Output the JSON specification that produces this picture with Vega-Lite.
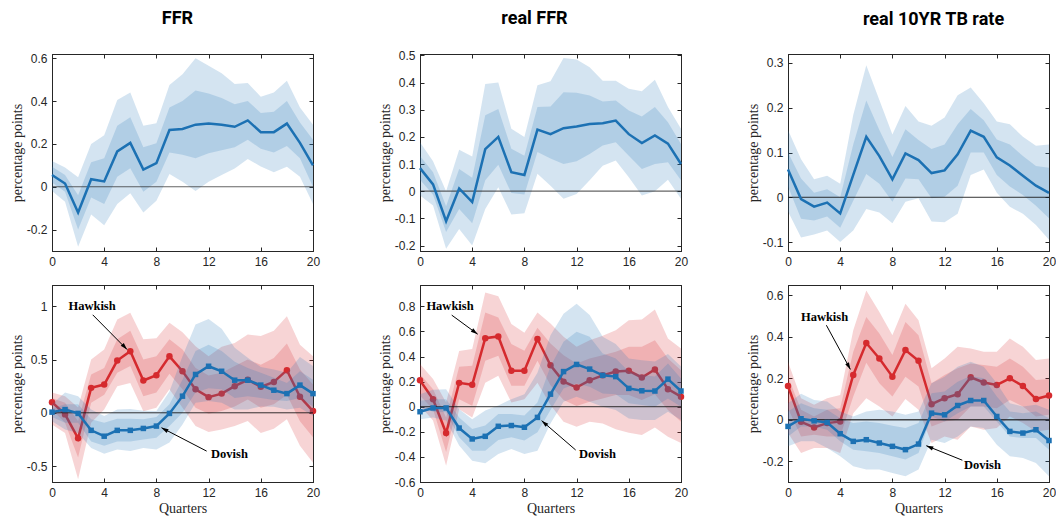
{
"$schema": "https://vega.github.io/schema/vega-lite/v6.json",
"padding": {"left": 9, "top": 9, "right": 2, "bottom": 2},
"columns": 3,
"spacing": {"row": 34, "column": 107},
"bounds": "flush",
"config": {
 "view": {"stroke": "#262626", "strokeWidth": 1},
 "axis": {"grid": false, "domainColor": "#262626", "tickColor": "#262626", "tickSize": -4, "labelPadding": 9, "labelFont": "Liberation Sans", "labelFontSize": 12, "labelColor": "#262626", "titleFont": "Liberation Serif", "titleFontSize": 14, "titleFontWeight": "normal", "titleColor": "#262626", "labelFlush": false, "labelOverlap": false, "tickCount": 20},
 "axisY": {"titlePadding": 2},
 "axisX": {"titlePadding": 3},
 "title": {"font": "Roboto", "fontSize": 18, "fontWeight": "bold", "color": "#000000", "offset": 25}
},
"datasets": {
"ann": [
 {"p":4,"label":"Hawkish","tx":3.07,"ty":1.0,"x0":3.12,"y0":0.92,"x1":5.75,"y1":0.594},
 {"p":4,"label":"Dovish","tx":13.6,"ty":-0.39,"x0":11.85,"y0":-0.36,"x1":8.39,"y1":-0.14},
 {"p":5,"label":"Hawkish","tx":2.3,"ty":0.8,"x0":2.43,"y0":0.73,"x1":4.42,"y1":0.578},
 {"p":5,"label":"Dovish","tx":13.6,"ty":-0.377,"x0":11.93,"y0":-0.345,"x1":9.32,"y1":-0.111},
 {"p":6,"label":"Hawkish","tx":2.8,"ty":0.496,"x0":2.94,"y0":0.456,"x1":4.78,"y1":0.243},
 {"p":6,"label":"Dovish","tx":14.9,"ty":-0.216,"x0":13.36,"y0":-0.195,"x1":10.6,"y1":-0.125}
],
"irf": [
{"p":1,"s":"b","q":0,"m":0.055,"ol":-0.02,"oh":0.12,"il":0.02,"ih":0.094},
{"p":1,"s":"b","q":1,"m":0.015,"ol":-0.07,"oh":0.09,"il":-0.023,"ih":0.055},
{"p":1,"s":"b","q":2,"m":-0.12,"ol":-0.28,"oh":0.045,"il":-0.2,"ih":-0.04},
{"p":1,"s":"b","q":3,"m":0.035,"ol":-0.13,"oh":0.2,"il":-0.05,"ih":0.115},
{"p":1,"s":"b","q":4,"m":0.025,"ol":-0.18,"oh":0.24,"il":-0.08,"ih":0.133},
{"p":1,"s":"b","q":5,"m":0.165,"ol":-0.08,"oh":0.405,"il":0.047,"ih":0.285},
{"p":1,"s":"b","q":6,"m":0.205,"ol":-0.03,"oh":0.44,"il":0.086,"ih":0.325},
{"p":1,"s":"b","q":7,"m":0.08,"ol":-0.12,"oh":0.285,"il":-0.023,"ih":0.185},
{"p":1,"s":"b","q":8,"m":0.11,"ol":-0.065,"oh":0.297,"il":0.023,"ih":0.203},
{"p":1,"s":"b","q":9,"m":0.265,"ol":0.06,"oh":0.475,"il":0.16,"ih":0.37},
{"p":1,"s":"b","q":10,"m":0.27,"ol":0.023,"oh":0.525,"il":0.15,"ih":0.4},
{"p":1,"s":"b","q":11,"m":0.29,"ol":-0.02,"oh":0.6,"il":0.133,"ih":0.45},
{"p":1,"s":"b","q":12,"m":0.295,"ol":0.023,"oh":0.565,"il":0.156,"ih":0.435},
{"p":1,"s":"b","q":13,"m":0.29,"ol":0.055,"oh":0.53,"il":0.17,"ih":0.415},
{"p":1,"s":"b","q":14,"m":0.28,"ol":0.085,"oh":0.48,"il":0.185,"ih":0.385},
{"p":1,"s":"b","q":15,"m":0.31,"ol":0.13,"oh":0.485,"il":0.22,"ih":0.4},
{"p":1,"s":"b","q":16,"m":0.255,"ol":0.095,"oh":0.42,"il":0.177,"ih":0.345},
{"p":1,"s":"b","q":17,"m":0.255,"ol":0.068,"oh":0.44,"il":0.16,"ih":0.35},
{"p":1,"s":"b","q":18,"m":0.295,"ol":0.094,"oh":0.495,"il":0.19,"ih":0.4},
{"p":1,"s":"b","q":19,"m":0.205,"ol":0.047,"oh":0.37,"il":0.133,"ih":0.3},
{"p":1,"s":"b","q":20,"m":0.1,"ol":-0.08,"oh":0.29,"il":0.0,"ih":0.22},
{"p":2,"s":"b","q":0,"m":0.085,"ol":-0.016,"oh":0.18,"il":0.042,"ih":0.13},
{"p":2,"s":"b","q":1,"m":0.025,"ol":-0.053,"oh":0.11,"il":-0.013,"ih":0.07},
{"p":2,"s":"b","q":2,"m":-0.11,"ol":-0.212,"oh":0.0,"il":-0.15,"ih":-0.055},
{"p":2,"s":"b","q":3,"m":0.01,"ol":-0.139,"oh":0.153,"il":-0.065,"ih":0.082},
{"p":2,"s":"b","q":4,"m":-0.04,"ol":-0.2,"oh":0.128,"il":-0.118,"ih":0.05},
{"p":2,"s":"b","q":5,"m":0.155,"ol":-0.065,"oh":0.395,"il":0.04,"ih":0.28},
{"p":2,"s":"b","q":6,"m":0.2,"ol":0.015,"oh":0.4,"il":0.097,"ih":0.303},
{"p":2,"s":"b","q":7,"m":0.07,"ol":-0.086,"oh":0.23,"il":-0.007,"ih":0.156},
{"p":2,"s":"b","q":8,"m":0.06,"ol":-0.081,"oh":0.2,"il":-0.012,"ih":0.131},
{"p":2,"s":"b","q":9,"m":0.227,"ol":0.064,"oh":0.39,"il":0.144,"ih":0.31},
{"p":2,"s":"b","q":10,"m":0.21,"ol":0.02,"oh":0.405,"il":0.12,"ih":0.312},
{"p":2,"s":"b","q":11,"m":0.232,"ol":-0.028,"oh":0.49,"il":0.1,"ih":0.364},
{"p":2,"s":"b","q":12,"m":0.238,"ol":-0.01,"oh":0.485,"il":0.11,"ih":0.362},
{"p":2,"s":"b","q":13,"m":0.247,"ol":0.04,"oh":0.456,"il":0.137,"ih":0.352},
{"p":2,"s":"b","q":14,"m":0.25,"ol":0.094,"oh":0.407,"il":0.168,"ih":0.33},
{"p":2,"s":"b","q":15,"m":0.26,"ol":0.113,"oh":0.407,"il":0.18,"ih":0.334},
{"p":2,"s":"b","q":16,"m":0.21,"ol":0.051,"oh":0.377,"il":0.131,"ih":0.297},
{"p":2,"s":"b","q":17,"m":0.177,"ol":-0.016,"oh":0.368,"il":0.082,"ih":0.275},
{"p":2,"s":"b","q":18,"m":0.205,"ol":0.0,"oh":0.41,"il":0.1,"ih":0.31},
{"p":2,"s":"b","q":19,"m":0.175,"ol":0.042,"oh":0.31,"il":0.107,"ih":0.254},
{"p":2,"s":"b","q":20,"m":0.1,"ol":-0.028,"oh":0.23,"il":0.04,"ih":0.174},
{"p":3,"s":"b","q":0,"m":0.062,"ol":-0.032,"oh":0.15,"il":0.024,"ih":0.1},
{"p":3,"s":"b","q":1,"m":-0.004,"ol":-0.09,"oh":0.085,"il":-0.048,"ih":0.042},
{"p":3,"s":"b","q":2,"m":-0.021,"ol":-0.083,"oh":0.04,"il":-0.052,"ih":0.01},
{"p":3,"s":"b","q":3,"m":-0.012,"ol":-0.074,"oh":0.048,"il":-0.043,"ih":0.018},
{"p":3,"s":"b","q":4,"m":-0.036,"ol":-0.1,"oh":0.03,"il":-0.068,"ih":0.0},
{"p":3,"s":"b","q":5,"m":0.05,"ol":-0.074,"oh":0.184,"il":-0.008,"ih":0.118},
{"p":3,"s":"b","q":6,"m":0.135,"ol":-0.026,"oh":0.295,"il":0.052,"ih":0.216},
{"p":3,"s":"b","q":7,"m":0.092,"ol":-0.034,"oh":0.217,"il":0.03,"ih":0.15},
{"p":3,"s":"b","q":8,"m":0.04,"ol":-0.058,"oh":0.14,"il":-0.01,"ih":0.09},
{"p":3,"s":"b","q":9,"m":0.098,"ol":-0.01,"oh":0.204,"il":0.042,"ih":0.152},
{"p":3,"s":"b","q":10,"m":0.083,"ol":-0.002,"oh":0.169,"il":0.04,"ih":0.128},
{"p":3,"s":"b","q":11,"m":0.054,"ol":-0.054,"oh":0.16,"il":-0.002,"ih":0.108},
{"p":3,"s":"b","q":12,"m":0.06,"ol":-0.056,"oh":0.178,"il":0.001,"ih":0.118},
{"p":3,"s":"b","q":13,"m":0.096,"ol":-0.037,"oh":0.228,"il":0.026,"ih":0.163},
{"p":3,"s":"b","q":14,"m":0.149,"ol":0.05,"oh":0.245,"il":0.1,"ih":0.197},
{"p":3,"s":"b","q":15,"m":0.135,"ol":0.062,"oh":0.21,"il":0.1,"ih":0.172},
{"p":3,"s":"b","q":16,"m":0.089,"ol":0.01,"oh":0.169,"il":0.05,"ih":0.129},
{"p":3,"s":"b","q":17,"m":0.071,"ol":-0.021,"oh":0.163,"il":0.024,"ih":0.118},
{"p":3,"s":"b","q":18,"m":0.048,"ol":-0.037,"oh":0.135,"il":0.005,"ih":0.092},
{"p":3,"s":"b","q":19,"m":0.026,"ol":-0.062,"oh":0.115,"il":-0.019,"ih":0.07},
{"p":3,"s":"b","q":20,"m":0.01,"ol":-0.095,"oh":0.118,"il":-0.047,"ih":0.066},
{"p":4,"s":"H","q":0,"m":0.1,"ol":-0.11,"oh":0.19,"il":0.03,"ih":0.14},
{"p":4,"s":"H","q":1,"m":-0.015,"ol":-0.19,"oh":0.156,"il":-0.094,"ih":0.094},
{"p":4,"s":"H","q":2,"m":-0.24,"ol":-0.625,"oh":0.05,"il":-0.42,"ih":-0.08},
{"p":4,"s":"H","q":3,"m":0.234,"ol":-0.094,"oh":0.5,"il":0.094,"ih":0.36},
{"p":4,"s":"H","q":4,"m":0.265,"ol":0.03,"oh":0.594,"il":0.17,"ih":0.42},
{"p":4,"s":"H","q":5,"m":0.49,"ol":0.25,"oh":0.875,"il":0.375,"ih":0.69},
{"p":4,"s":"H","q":6,"m":0.578,"ol":0.28,"oh":0.94,"il":0.44,"ih":0.77},
{"p":4,"s":"H","q":7,"m":0.303,"ol":0.015,"oh":0.69,"il":0.156,"ih":0.5},
{"p":4,"s":"H","q":8,"m":0.353,"ol":0.047,"oh":0.7,"il":0.19,"ih":0.53},
{"p":4,"s":"H","q":9,"m":0.53,"ol":0.22,"oh":0.845,"il":0.366,"ih":0.69},
{"p":4,"s":"H","q":10,"m":0.39,"ol":0.047,"oh":0.756,"il":0.22,"ih":0.594},
{"p":4,"s":"H","q":11,"m":0.22,"ol":-0.125,"oh":0.625,"il":0.047,"ih":0.42},
{"p":4,"s":"H","q":12,"m":0.147,"ol":-0.18,"oh":0.53,"il":-0.01,"ih":0.35},
{"p":4,"s":"H","q":13,"m":0.18,"ol":-0.156,"oh":0.62,"il":0.016,"ih":0.375},
{"p":4,"s":"H","q":14,"m":0.25,"ol":-0.125,"oh":0.656,"il":0.06,"ih":0.44},
{"p":4,"s":"H","q":15,"m":0.31,"ol":-0.078,"oh":0.735,"il":0.125,"ih":0.5},
{"p":4,"s":"H","q":16,"m":0.244,"ol":-0.19,"oh":0.72,"il":0.047,"ih":0.45},
{"p":4,"s":"H","q":17,"m":0.29,"ol":-0.15,"oh":0.77,"il":0.08,"ih":0.515},
{"p":4,"s":"H","q":18,"m":0.4,"ol":-0.06,"oh":0.906,"il":0.17,"ih":0.65},
{"p":4,"s":"H","q":19,"m":0.15,"ol":-0.31,"oh":0.64,"il":-0.08,"ih":0.406},
{"p":4,"s":"H","q":20,"m":0.016,"ol":-0.47,"oh":0.53,"il":-0.23,"ih":0.266},
{"p":4,"s":"D","q":0,"m":0.006,"ol":-0.08,"oh":0.08,"il":-0.04,"ih":0.04},
{"p":4,"s":"D","q":1,"m":0.03,"ol":-0.156,"oh":0.19,"il":-0.094,"ih":0.08},
{"p":4,"s":"D","q":2,"m":-0.006,"ol":-0.19,"oh":0.156,"il":-0.094,"ih":0.08},
{"p":4,"s":"D","q":3,"m":-0.165,"ol":-0.33,"oh":0.03,"il":-0.27,"ih":-0.06},
{"p":4,"s":"D","q":4,"m":-0.22,"ol":-0.384,"oh":-0.03,"il":-0.31,"ih":-0.094},
{"p":4,"s":"D","q":5,"m":-0.165,"ol":-0.344,"oh":0.03,"il":-0.27,"ih":-0.056},
{"p":4,"s":"D","q":6,"m":-0.165,"ol":-0.36,"oh":0.035,"il":-0.27,"ih":-0.056},
{"p":4,"s":"D","q":7,"m":-0.147,"ol":-0.33,"oh":0.02,"il":-0.25,"ih":-0.06},
{"p":4,"s":"D","q":8,"m":-0.125,"ol":-0.344,"oh":0.016,"il":-0.234,"ih":-0.04},
{"p":4,"s":"D","q":9,"m":-0.006,"ol":-0.28,"oh":0.2,"il":-0.125,"ih":0.08},
{"p":4,"s":"D","q":10,"m":0.156,"ol":-0.11,"oh":0.53,"il":0.0,"ih":0.31},
{"p":4,"s":"D","q":11,"m":0.36,"ol":0.094,"oh":0.83,"il":0.19,"ih":0.58},
{"p":4,"s":"D","q":12,"m":0.437,"ol":0.11,"oh":0.88,"il":0.23,"ih":0.64},
{"p":4,"s":"D","q":13,"m":0.39,"ol":0.094,"oh":0.79,"il":0.22,"ih":0.58},
{"p":4,"s":"D","q":14,"m":0.306,"ol":0.03,"oh":0.61,"il":0.14,"ih":0.48},
{"p":4,"s":"D","q":15,"m":0.306,"ol":0.03,"oh":0.516,"il":0.156,"ih":0.42},
{"p":4,"s":"D","q":16,"m":0.26,"ol":0.06,"oh":0.43,"il":0.14,"ih":0.375},
{"p":4,"s":"D","q":17,"m":0.212,"ol":0.056,"oh":0.406,"il":0.12,"ih":0.33},
{"p":4,"s":"D","q":18,"m":0.18,"ol":0.03,"oh":0.375,"il":0.11,"ih":0.28},
{"p":4,"s":"D","q":19,"m":0.26,"ol":0.047,"oh":0.525,"il":0.14,"ih":0.39},
{"p":4,"s":"D","q":20,"m":0.18,"ol":-0.03,"oh":0.44,"il":0.06,"ih":0.31},
{"p":5,"s":"H","q":0,"m":0.21,"ol":0.008,"oh":0.34,"il":0.088,"ih":0.26},
{"p":5,"s":"H","q":1,"m":0.06,"ol":-0.11,"oh":0.22,"il":-0.02,"ih":0.14},
{"p":5,"s":"H","q":2,"m":-0.21,"ol":-0.47,"oh":0.034,"il":-0.36,"ih":-0.085},
{"p":5,"s":"H","q":3,"m":0.19,"ol":-0.02,"oh":0.445,"il":0.06,"ih":0.318},
{"p":5,"s":"H","q":4,"m":0.175,"ol":-0.085,"oh":0.46,"il":0.008,"ih":0.326},
{"p":5,"s":"H","q":5,"m":0.546,"ol":0.19,"oh":0.91,"il":0.366,"ih":0.75},
{"p":5,"s":"H","q":6,"m":0.56,"ol":0.247,"oh":0.88,"il":0.406,"ih":0.71},
{"p":5,"s":"H","q":7,"m":0.286,"ol":0.034,"oh":0.66,"il":0.167,"ih":0.5},
{"p":5,"s":"H","q":8,"m":0.286,"ol":0.06,"oh":0.59,"il":0.167,"ih":0.446},
{"p":5,"s":"H","q":9,"m":0.54,"ol":0.19,"oh":0.75,"il":0.366,"ih":0.63},
{"p":5,"s":"H","q":10,"m":0.33,"ol":0.013,"oh":0.663,"il":0.172,"ih":0.504},
{"p":5,"s":"H","q":11,"m":0.2,"ol":-0.12,"oh":0.557,"il":0.053,"ih":0.41},
{"p":5,"s":"H","q":12,"m":0.154,"ol":-0.16,"oh":0.477,"il":0.005,"ih":0.345},
{"p":5,"s":"H","q":13,"m":0.21,"ol":-0.12,"oh":0.53,"il":0.04,"ih":0.385},
{"p":5,"s":"H","q":14,"m":0.25,"ol":-0.133,"oh":0.565,"il":0.066,"ih":0.41},
{"p":5,"s":"H","q":15,"m":0.28,"ol":-0.18,"oh":0.61,"il":0.093,"ih":0.438},
{"p":5,"s":"H","q":16,"m":0.286,"ol":-0.207,"oh":0.69,"il":0.093,"ih":0.477},
{"p":5,"s":"H","q":17,"m":0.233,"ol":-0.225,"oh":0.695,"il":0.053,"ih":0.477},
{"p":5,"s":"H","q":18,"m":0.297,"ol":-0.165,"oh":0.775,"il":0.1,"ih":0.53},
{"p":5,"s":"H","q":19,"m":0.14,"ol":-0.24,"oh":0.544,"il":-0.027,"ih":0.385},
{"p":5,"s":"H","q":20,"m":0.08,"ol":-0.29,"oh":0.464,"il":-0.12,"ih":0.29},
{"p":5,"s":"D","q":0,"m":-0.04,"ol":-0.1,"oh":0.1,"il":-0.005,"ih":0.048},
{"p":5,"s":"D","q":1,"m":-0.01,"ol":-0.085,"oh":0.135,"il":-0.04,"ih":0.06},
{"p":5,"s":"D","q":2,"m":-0.01,"ol":-0.11,"oh":0.14,"il":-0.045,"ih":0.06},
{"p":5,"s":"D","q":3,"m":-0.17,"ol":-0.31,"oh":-0.02,"il":-0.244,"ih":-0.085},
{"p":5,"s":"D","q":4,"m":-0.257,"ol":-0.43,"oh":-0.1,"il":-0.35,"ih":-0.178},
{"p":5,"s":"D","q":5,"m":-0.236,"ol":-0.45,"oh":-0.03,"il":-0.35,"ih":-0.15},
{"p":5,"s":"D","q":6,"m":-0.156,"ol":-0.377,"oh":0.01,"il":-0.265,"ih":-0.058},
{"p":5,"s":"D","q":7,"m":-0.15,"ol":-0.337,"oh":0.06,"il":-0.244,"ih":-0.058},
{"p":5,"s":"D","q":8,"m":-0.164,"ol":-0.377,"oh":0.1,"il":-0.27,"ih":-0.07},
{"p":5,"s":"D","q":9,"m":-0.085,"ol":-0.35,"oh":0.27,"il":-0.204,"ih":0.034},
{"p":5,"s":"D","q":10,"m":0.1,"ol":-0.133,"oh":0.57,"il":-0.027,"ih":0.32},
{"p":5,"s":"D","q":11,"m":0.28,"ol":0.04,"oh":0.74,"il":0.146,"ih":0.517},
{"p":5,"s":"D","q":12,"m":0.337,"ol":0.08,"oh":0.82,"il":0.186,"ih":0.597},
{"p":5,"s":"D","q":13,"m":0.3,"ol":0.04,"oh":0.73,"il":0.16,"ih":0.557},
{"p":5,"s":"D","q":14,"m":0.25,"ol":0.0,"oh":0.557,"il":0.106,"ih":0.424},
{"p":5,"s":"D","q":15,"m":0.24,"ol":-0.027,"oh":0.5,"il":0.1,"ih":0.385},
{"p":5,"s":"D","q":16,"m":0.146,"ol":-0.093,"oh":0.385,"il":0.027,"ih":0.28},
{"p":5,"s":"D","q":17,"m":0.127,"ol":-0.106,"oh":0.37,"il":0.013,"ih":0.252},
{"p":5,"s":"D","q":18,"m":0.125,"ol":-0.106,"oh":0.36,"il":0.0,"ih":0.24},
{"p":5,"s":"D","q":19,"m":0.22,"ol":-0.04,"oh":0.42,"il":0.066,"ih":0.345},
{"p":5,"s":"D","q":20,"m":0.125,"ol":-0.106,"oh":0.32,"il":0.0,"ih":0.225},
{"p":6,"s":"H","q":0,"m":0.163,"ol":-0.064,"oh":0.28,"il":0.056,"ih":0.208},
{"p":6,"s":"H","q":1,"m":-0.01,"ol":-0.16,"oh":0.104,"il":-0.08,"ih":0.048},
{"p":6,"s":"H","q":2,"m":-0.037,"ol":-0.136,"oh":0.072,"il":-0.072,"ih":0.016},
{"p":6,"s":"H","q":3,"m":-0.016,"ol":-0.136,"oh":0.104,"il":-0.08,"ih":0.048},
{"p":6,"s":"H","q":4,"m":-0.008,"ol":-0.16,"oh":0.12,"il":-0.08,"ih":0.056},
{"p":6,"s":"H","q":5,"m":0.216,"ol":0.032,"oh":0.432,"il":0.112,"ih":0.328},
{"p":6,"s":"H","q":6,"m":0.37,"ol":0.104,"oh":0.624,"il":0.275,"ih":0.496},
{"p":6,"s":"H","q":7,"m":0.296,"ol":0.064,"oh":0.52,"il":0.176,"ih":0.416},
{"p":6,"s":"H","q":8,"m":0.208,"ol":0.016,"oh":0.408,"il":0.112,"ih":0.312},
{"p":6,"s":"H","q":9,"m":0.336,"ol":0.1,"oh":0.56,"il":0.208,"ih":0.472},
{"p":6,"s":"H","q":10,"m":0.285,"ol":0.048,"oh":0.48,"il":0.16,"ih":0.408},
{"p":6,"s":"H","q":11,"m":0.075,"ol":-0.112,"oh":0.248,"il":-0.032,"ih":0.176},
{"p":6,"s":"H","q":12,"m":0.104,"ol":-0.08,"oh":0.296,"il":-0.008,"ih":0.216},
{"p":6,"s":"H","q":13,"m":0.123,"ol":-0.096,"oh":0.352,"il":0.0,"ih":0.248},
{"p":6,"s":"H","q":14,"m":0.205,"ol":-0.032,"oh":0.344,"il":0.064,"ih":0.272},
{"p":6,"s":"H","q":15,"m":0.18,"ol":-0.048,"oh":0.328,"il":0.064,"ih":0.264},
{"p":6,"s":"H","q":16,"m":0.168,"ol":-0.04,"oh":0.328,"il":0.056,"ih":0.256},
{"p":6,"s":"H","q":17,"m":0.2,"ol":0.016,"oh":0.392,"il":0.096,"ih":0.296},
{"p":6,"s":"H","q":18,"m":0.163,"ol":-0.016,"oh":0.352,"il":0.064,"ih":0.256},
{"p":6,"s":"H","q":19,"m":0.1,"ol":-0.056,"oh":0.288,"il":0.016,"ih":0.192},
{"p":6,"s":"H","q":20,"m":0.117,"ol":-0.048,"oh":0.296,"il":0.024,"ih":0.197},
{"p":6,"s":"D","q":0,"m":-0.032,"ol":-0.128,"oh":0.08,"il":-0.08,"ih":0.04},
{"p":6,"s":"D","q":1,"m":0.005,"ol":-0.104,"oh":0.125,"il":-0.032,"ih":0.08},
{"p":6,"s":"D","q":2,"m":-0.005,"ol":-0.104,"oh":0.096,"il":-0.032,"ih":0.056},
{"p":6,"s":"D","q":3,"m":-0.013,"ol":-0.136,"oh":0.088,"il":-0.048,"ih":0.048},
{"p":6,"s":"D","q":4,"m":-0.067,"ol":-0.176,"oh":0.04,"il":-0.104,"ih":0.008},
{"p":6,"s":"D","q":5,"m":-0.104,"ol":-0.224,"oh":0.016,"il":-0.144,"ih":-0.016},
{"p":6,"s":"D","q":6,"m":-0.096,"ol":-0.24,"oh":0.04,"il":-0.152,"ih":-0.008},
{"p":6,"s":"D","q":7,"m":-0.112,"ol":-0.24,"oh":0.048,"il":-0.16,"ih":-0.016},
{"p":6,"s":"D","q":8,"m":-0.128,"ol":-0.256,"oh":0.04,"il":-0.176,"ih":-0.029},
{"p":6,"s":"D","q":9,"m":-0.144,"ol":-0.272,"oh":0.024,"il":-0.192,"ih":-0.04},
{"p":6,"s":"D","q":10,"m":-0.117,"ol":-0.24,"oh":0.04,"il":-0.16,"ih":-0.016},
{"p":6,"s":"D","q":11,"m":0.032,"ol":-0.096,"oh":0.176,"il":0.016,"ih":0.128},
{"p":6,"s":"D","q":12,"m":0.024,"ol":-0.112,"oh":0.208,"il":-0.008,"ih":0.136},
{"p":6,"s":"D","q":13,"m":0.069,"ol":-0.08,"oh":0.256,"il":0.032,"ih":0.184},
{"p":6,"s":"D","q":14,"m":0.093,"ol":-0.032,"oh":0.28,"il":0.064,"ih":0.211},
{"p":6,"s":"D","q":15,"m":0.093,"ol":-0.04,"oh":0.256,"il":0.064,"ih":0.2},
{"p":6,"s":"D","q":16,"m":0.016,"ol":-0.12,"oh":0.176,"il":-0.008,"ih":0.112},
{"p":6,"s":"D","q":17,"m":-0.056,"ol":-0.176,"oh":0.08,"il":-0.08,"ih":0.04},
{"p":6,"s":"D","q":18,"m":-0.064,"ol":-0.184,"oh":0.064,"il":-0.088,"ih":0.032},
{"p":6,"s":"D","q":19,"m":-0.048,"ol":-0.208,"oh":0.072,"il":-0.088,"ih":0.04},
{"p":6,"s":"D","q":20,"m":-0.1,"ol":-0.272,"oh":0.048,"il":-0.144,"ih":0.008}
]
},
"data": {"name": "irf"},
"concat": [
{
 "title": {"text": "FFR", "dx": -5, "dy": 1},
 "width": 261, "height": 197,
 "layer": [
  {"layer": [
   {"transform": [{"filter": "datum.p==1"}], "mark": {"type": "area", "color": "#2a7ab8", "opacity": 0.2},
    "encoding": {"x": {"field": "q", "type": "quantitative", "scale": {"domain": [0, 20], "nice": false}, "axis": {"values": [0,4,8,12,16,20], "tickCount": 20, "title": null, "format": "d", "labelOverlap": false}},
     "y": {"field": "ol", "type": "quantitative", "scale": {"domain": [-0.3, 0.62], "nice": false, "zero": false}, "axis": {"values": [-0.2,0,0.2,0.4,0.6], "tickCount": 20, "title": "percentage points", "labelOverlap": false, "labelExpr": "datum.value < 0 ? '-' + format(-datum.value, '~g') : format(datum.value, '~g')"}},
     "y2": {"field": "oh"}}},
   {"transform": [{"filter": "datum.p==1"}], "mark": {"type": "area", "color": "#2a7ab8", "opacity": 0.2},
    "encoding": {"x": {"field": "q", "type": "quantitative"}, "y": {"field": "il", "type": "quantitative"}, "y2": {"field": "ih"}}},
   {"data": {"values": [{}]}, "mark": {"type": "rule", "color": "#222222", "strokeWidth": 1.2, "opacity": 0.7}, "encoding": {"y": {"datum": 0}}},
   {"transform": [{"filter": "datum.p==1"}], "mark": {"type": "line", "color": "#1c71b3", "strokeWidth": 2.5},
    "encoding": {"x": {"field": "q", "type": "quantitative"}, "y": {"field": "m", "type": "quantitative"}}}
  ]},
  {"transform": [{"filter": "datum.p==1"}], "mark": {"type": "point", "opacity": 0},
   "encoding": {"x": {"field": "q", "type": "quantitative", "axis": {"orient": "top", "values": [0,4,8,12,16,20], "tickCount": 20, "labels": false, "title": null}},
    "y": {"field": "m", "type": "quantitative", "axis": {"orient": "right", "values": [-0.2,0,0.2,0.4,0.6], "tickCount": 20, "labels": false, "title": null}}}}
 ],
 "resolve": {"axis": {"x": "independent", "y": "independent"}}
},
{
 "title": {"text": "real FFR", "dx": -16, "dy": 4},
 "width": 261, "height": 197,
 "layer": [
  {"layer": [
   {"transform": [{"filter": "datum.p==2"}], "mark": {"type": "area", "color": "#2a7ab8", "opacity": 0.2},
    "encoding": {"x": {"field": "q", "type": "quantitative", "scale": {"domain": [0, 20], "nice": false}, "axis": {"values": [0,4,8,12,16,20], "tickCount": 20, "title": null, "format": "d", "labelOverlap": false}},
     "y": {"field": "ol", "type": "quantitative", "scale": {"domain": [-0.22, 0.505], "nice": false, "zero": false}, "axis": {"values": [-0.2,-0.1,0,0.1,0.2,0.3,0.4,0.5], "tickCount": 20, "title": "percentage points", "labelOverlap": false, "labelExpr": "datum.value < 0 ? '-' + format(-datum.value, '~g') : format(datum.value, '~g')"}},
     "y2": {"field": "oh"}}},
   {"transform": [{"filter": "datum.p==2"}], "mark": {"type": "area", "color": "#2a7ab8", "opacity": 0.2},
    "encoding": {"x": {"field": "q", "type": "quantitative"}, "y": {"field": "il", "type": "quantitative"}, "y2": {"field": "ih"}}},
   {"data": {"values": [{}]}, "mark": {"type": "rule", "color": "#222222", "strokeWidth": 1.2, "opacity": 0.7}, "encoding": {"y": {"datum": 0}}},
   {"transform": [{"filter": "datum.p==2"}], "mark": {"type": "line", "color": "#1c71b3", "strokeWidth": 2.5},
    "encoding": {"x": {"field": "q", "type": "quantitative"}, "y": {"field": "m", "type": "quantitative"}}}
  ]},
  {"transform": [{"filter": "datum.p==2"}], "mark": {"type": "point", "opacity": 0},
   "encoding": {"x": {"field": "q", "type": "quantitative", "axis": {"orient": "top", "values": [0,4,8,12,16,20], "tickCount": 20, "labels": false, "title": null}},
    "y": {"field": "m", "type": "quantitative", "axis": {"orient": "right", "values": [-0.2,-0.1,0,0.1,0.2,0.3,0.4,0.5], "tickCount": 20, "labels": false, "title": null}}}}
 ],
 "resolve": {"axis": {"x": "independent", "y": "independent"}}
},
{
 "title": {"text": "real 10YR TB rate", "dx": 15, "dy": 0},
 "width": 261, "height": 197,
 "layer": [
  {"layer": [
   {"transform": [{"filter": "datum.p==3"}], "mark": {"type": "area", "color": "#2a7ab8", "opacity": 0.2},
    "encoding": {"x": {"field": "q", "type": "quantitative", "scale": {"domain": [0, 20], "nice": false}, "axis": {"values": [0,4,8,12,16,20], "tickCount": 20, "title": null, "format": "d", "labelOverlap": false}},
     "y": {"field": "ol", "type": "quantitative", "scale": {"domain": [-0.12, 0.32], "nice": false, "zero": false}, "axis": {"values": [-0.1,0,0.1,0.2,0.3], "tickCount": 20, "title": "percentage points", "labelOverlap": false, "labelExpr": "datum.value < 0 ? '-' + format(-datum.value, '~g') : format(datum.value, '~g')"}},
     "y2": {"field": "oh"}}},
   {"transform": [{"filter": "datum.p==3"}], "mark": {"type": "area", "color": "#2a7ab8", "opacity": 0.2},
    "encoding": {"x": {"field": "q", "type": "quantitative"}, "y": {"field": "il", "type": "quantitative"}, "y2": {"field": "ih"}}},
   {"data": {"values": [{}]}, "mark": {"type": "rule", "color": "#111111", "strokeWidth": 1, "opacity": 0.85}, "encoding": {"y": {"datum": 0}}},
   {"transform": [{"filter": "datum.p==3"}], "mark": {"type": "line", "color": "#1c71b3", "strokeWidth": 2.5},
    "encoding": {"x": {"field": "q", "type": "quantitative"}, "y": {"field": "m", "type": "quantitative"}}}
  ]},
  {"transform": [{"filter": "datum.p==3"}], "mark": {"type": "point", "opacity": 0},
   "encoding": {"x": {"field": "q", "type": "quantitative", "axis": {"orient": "top", "values": [0,4,8,12,16,20], "tickCount": 20, "labels": false, "title": null}},
    "y": {"field": "m", "type": "quantitative", "axis": {"orient": "right", "values": [-0.1,0,0.1,0.2,0.3], "tickCount": 20, "labels": false, "title": null}}}}
 ],
 "resolve": {"axis": {"x": "independent", "y": "independent"}}
},
{
 "width": 261, "height": 197,
 "layer": [
  {"layer": [
   {"transform": [{"filter": "datum.p==4 && datum.s=='H'"}], "mark": {"type": "area", "color": "#d9282e", "opacity": 0.2},
    "encoding": {"x": {"field": "q", "type": "quantitative", "scale": {"domain": [0, 20], "nice": false}, "axis": {"values": [0,4,8,12,16,20], "tickCount": 20, "title": "Quarters", "format": "d", "labelOverlap": false}},
     "y": {"field": "ol", "type": "quantitative", "scale": {"domain": [-0.65, 1.2], "nice": false, "zero": false}, "axis": {"values": [-0.5,0,0.5,1], "tickCount": 20, "title": "percentage points", "labelOverlap": false, "labelExpr": "datum.value < 0 ? '-' + format(-datum.value, '~g') : format(datum.value, '~g')"}},
     "y2": {"field": "oh"}}},
   {"transform": [{"filter": "datum.p==4 && datum.s=='H'"}], "mark": {"type": "area", "color": "#d9282e", "opacity": 0.2},
    "encoding": {"x": {"field": "q", "type": "quantitative"}, "y": {"field": "il", "type": "quantitative"}, "y2": {"field": "ih"}}},
   {"transform": [{"filter": "datum.p==4 && datum.s=='H'"}], "mark": {"type": "line", "color": "#d52a2e", "strokeWidth": 2.5, "point": {"filled": true, "shape": "circle", "size": 42, "color": "#d52a2e"}},
    "encoding": {"x": {"field": "q", "type": "quantitative"}, "y": {"field": "m", "type": "quantitative"}}},
   {"transform": [{"filter": "datum.p==4 && datum.s=='D'"}], "mark": {"type": "area", "color": "#2a7ab8", "opacity": 0.2},
    "encoding": {"x": {"field": "q", "type": "quantitative"}, "y": {"field": "ol", "type": "quantitative"}, "y2": {"field": "oh"}}},
   {"transform": [{"filter": "datum.p==4 && datum.s=='D'"}], "mark": {"type": "area", "color": "#2a7ab8", "opacity": 0.2},
    "encoding": {"x": {"field": "q", "type": "quantitative"}, "y": {"field": "il", "type": "quantitative"}, "y2": {"field": "ih"}}},
   {"data": {"values": [{}]}, "mark": {"type": "rule", "color": "#111111", "strokeWidth": 1, "opacity": 0.85}, "encoding": {"y": {"datum": 0}}},
   {"transform": [{"filter": "datum.p==4 && datum.s=='D'"}], "mark": {"type": "line", "color": "#1c71b3", "strokeWidth": 2.5, "point": {"filled": true, "shape": "square", "size": 30, "color": "#1c71b3"}},
    "encoding": {"x": {"field": "q", "type": "quantitative"}, "y": {"field": "m", "type": "quantitative"}}},
   {"data": {"name": "ann"}, "transform": [{"filter": "datum.p==4"}], "mark": {"type": "text", "font": "Liberation Serif", "fontWeight": "bold", "fontSize": 12.5, "color": "#000000"},
    "encoding": {"x": {"field": "tx", "type": "quantitative"}, "y": {"field": "ty", "type": "quantitative"}, "text": {"field": "label"}}},
   {"data": {"name": "ann"}, "transform": [{"filter": "datum.p==4"}], "mark": {"type": "rule", "color": "#000000", "strokeWidth": 1},
    "encoding": {"x": {"field": "x0", "type": "quantitative"}, "y": {"field": "y0", "type": "quantitative"}, "x2": {"field": "x1"}, "y2": {"field": "y1"}}},
   {"data": {"name": "ann"}, "transform": [{"filter": "datum.p==4 && datum.label=='Hawkish'"}], "mark": {"type": "point", "shape": "M0,0L-0.6,2L0.6,2Z", "filled": true, "color": "#000000", "opacity": 1, "size": 49, "angle": 137},
    "encoding": {"x": {"field": "x1", "type": "quantitative"}, "y": {"field": "y1", "type": "quantitative"}}},
   {"data": {"name": "ann"}, "transform": [{"filter": "datum.p==4 && datum.label=='Dovish'"}], "mark": {"type": "point", "shape": "M0,0L-0.6,2L0.6,2Z", "filled": true, "color": "#000000", "opacity": 1, "size": 49, "angle": 299},
    "encoding": {"x": {"field": "x1", "type": "quantitative"}, "y": {"field": "y1", "type": "quantitative"}}}
  ]},
  {"transform": [{"filter": "datum.p==4"}], "mark": {"type": "point", "opacity": 0},
   "encoding": {"x": {"field": "q", "type": "quantitative", "axis": {"orient": "top", "values": [0,4,8,12,16,20], "tickCount": 20, "labels": false, "title": null}},
    "y": {"field": "m", "type": "quantitative", "axis": {"orient": "right", "values": [-0.5,0,0.5,1], "tickCount": 20, "labels": false, "title": null}}}}
 ],
 "resolve": {"axis": {"x": "independent", "y": "independent"}}
},
{
 "width": 261, "height": 197,
 "layer": [
  {"layer": [
   {"transform": [{"filter": "datum.p==5 && datum.s=='H'"}], "mark": {"type": "area", "color": "#d9282e", "opacity": 0.2},
    "encoding": {"x": {"field": "q", "type": "quantitative", "scale": {"domain": [0, 20], "nice": false}, "axis": {"values": [0,4,8,12,16,20], "tickCount": 20, "title": "Quarters", "format": "d", "labelOverlap": false}},
     "y": {"field": "ol", "type": "quantitative", "scale": {"domain": [-0.6, 0.97], "nice": false, "zero": false}, "axis": {"values": [-0.6,-0.4,-0.2,0,0.2,0.4,0.6,0.8], "tickCount": 20, "title": "percentage points", "labelOverlap": false, "labelExpr": "datum.value < 0 ? '-' + format(-datum.value, '~g') : format(datum.value, '~g')"}},
     "y2": {"field": "oh"}}},
   {"transform": [{"filter": "datum.p==5 && datum.s=='H'"}], "mark": {"type": "area", "color": "#d9282e", "opacity": 0.2},
    "encoding": {"x": {"field": "q", "type": "quantitative"}, "y": {"field": "il", "type": "quantitative"}, "y2": {"field": "ih"}}},
   {"transform": [{"filter": "datum.p==5 && datum.s=='H'"}], "mark": {"type": "line", "color": "#d52a2e", "strokeWidth": 2.5, "point": {"filled": true, "shape": "circle", "size": 42, "color": "#d52a2e"}},
    "encoding": {"x": {"field": "q", "type": "quantitative"}, "y": {"field": "m", "type": "quantitative"}}},
   {"transform": [{"filter": "datum.p==5 && datum.s=='D'"}], "mark": {"type": "area", "color": "#2a7ab8", "opacity": 0.2},
    "encoding": {"x": {"field": "q", "type": "quantitative"}, "y": {"field": "ol", "type": "quantitative"}, "y2": {"field": "oh"}}},
   {"transform": [{"filter": "datum.p==5 && datum.s=='D'"}], "mark": {"type": "area", "color": "#2a7ab8", "opacity": 0.2},
    "encoding": {"x": {"field": "q", "type": "quantitative"}, "y": {"field": "il", "type": "quantitative"}, "y2": {"field": "ih"}}},
   {"data": {"values": [{}]}, "mark": {"type": "rule", "color": "#111111", "strokeWidth": 1, "opacity": 0.85}, "encoding": {"y": {"datum": 0}}},
   {"transform": [{"filter": "datum.p==5 && datum.s=='D'"}], "mark": {"type": "line", "color": "#1c71b3", "strokeWidth": 2.5, "point": {"filled": true, "shape": "square", "size": 30, "color": "#1c71b3"}},
    "encoding": {"x": {"field": "q", "type": "quantitative"}, "y": {"field": "m", "type": "quantitative"}}},
   {"data": {"name": "ann"}, "transform": [{"filter": "datum.p==5"}], "mark": {"type": "text", "font": "Liberation Serif", "fontWeight": "bold", "fontSize": 12.5, "color": "#000000"},
    "encoding": {"x": {"field": "tx", "type": "quantitative"}, "y": {"field": "ty", "type": "quantitative"}, "text": {"field": "label"}}},
   {"data": {"name": "ann"}, "transform": [{"filter": "datum.p==5"}], "mark": {"type": "rule", "color": "#000000", "strokeWidth": 1},
    "encoding": {"x": {"field": "x0", "type": "quantitative"}, "y": {"field": "y0", "type": "quantitative"}, "x2": {"field": "x1"}, "y2": {"field": "y1"}}},
   {"data": {"name": "ann"}, "transform": [{"filter": "datum.p==5 && datum.label=='Hawkish'"}], "mark": {"type": "point", "shape": "M0,0L-0.6,2L0.6,2Z", "filled": true, "color": "#000000", "opacity": 1, "size": 49, "angle": 126},
    "encoding": {"x": {"field": "x1", "type": "quantitative"}, "y": {"field": "y1", "type": "quantitative"}}},
   {"data": {"name": "ann"}, "transform": [{"filter": "datum.p==5 && datum.label=='Dovish'"}], "mark": {"type": "point", "shape": "M0,0L-0.6,2L0.6,2Z", "filled": true, "color": "#000000", "opacity": 1, "size": 49, "angle": 311},
    "encoding": {"x": {"field": "x1", "type": "quantitative"}, "y": {"field": "y1", "type": "quantitative"}}}
  ]},
  {"transform": [{"filter": "datum.p==5"}], "mark": {"type": "point", "opacity": 0},
   "encoding": {"x": {"field": "q", "type": "quantitative", "axis": {"orient": "top", "values": [0,4,8,12,16,20], "tickCount": 20, "labels": false, "title": null}},
    "y": {"field": "m", "type": "quantitative", "axis": {"orient": "right", "values": [-0.6,-0.4,-0.2,0,0.2,0.4,0.6,0.8], "tickCount": 20, "labels": false, "title": null}}}}
 ],
 "resolve": {"axis": {"x": "independent", "y": "independent"}}
},
{
 "width": 261, "height": 197,
 "layer": [
  {"layer": [
   {"transform": [{"filter": "datum.p==6 && datum.s=='H'"}], "mark": {"type": "area", "color": "#d9282e", "opacity": 0.2},
    "encoding": {"x": {"field": "q", "type": "quantitative", "scale": {"domain": [0, 20], "nice": false}, "axis": {"values": [0,4,8,12,16,20], "tickCount": 20, "title": "Quarters", "format": "d", "labelOverlap": false}},
     "y": {"field": "ol", "type": "quantitative", "scale": {"domain": [-0.3, 0.65], "nice": false, "zero": false}, "axis": {"values": [-0.2,0,0.2,0.4,0.6], "tickCount": 20, "title": "percentage points", "labelOverlap": false, "labelExpr": "datum.value < 0 ? '-' + format(-datum.value, '~g') : format(datum.value, '~g')"}},
     "y2": {"field": "oh"}}},
   {"transform": [{"filter": "datum.p==6 && datum.s=='H'"}], "mark": {"type": "area", "color": "#d9282e", "opacity": 0.2},
    "encoding": {"x": {"field": "q", "type": "quantitative"}, "y": {"field": "il", "type": "quantitative"}, "y2": {"field": "ih"}}},
   {"transform": [{"filter": "datum.p==6 && datum.s=='H'"}], "mark": {"type": "line", "color": "#d52a2e", "strokeWidth": 2.5, "point": {"filled": true, "shape": "circle", "size": 42, "color": "#d52a2e"}},
    "encoding": {"x": {"field": "q", "type": "quantitative"}, "y": {"field": "m", "type": "quantitative"}}},
   {"transform": [{"filter": "datum.p==6 && datum.s=='D'"}], "mark": {"type": "area", "color": "#2a7ab8", "opacity": 0.2},
    "encoding": {"x": {"field": "q", "type": "quantitative"}, "y": {"field": "ol", "type": "quantitative"}, "y2": {"field": "oh"}}},
   {"transform": [{"filter": "datum.p==6 && datum.s=='D'"}], "mark": {"type": "area", "color": "#2a7ab8", "opacity": 0.2},
    "encoding": {"x": {"field": "q", "type": "quantitative"}, "y": {"field": "il", "type": "quantitative"}, "y2": {"field": "ih"}}},
   {"data": {"values": [{}]}, "mark": {"type": "rule", "color": "#111111", "strokeWidth": 1.4, "opacity": 0.75}, "encoding": {"y": {"datum": 0}}},
   {"transform": [{"filter": "datum.p==6 && datum.s=='D'"}], "mark": {"type": "line", "color": "#1c71b3", "strokeWidth": 2.5, "point": {"filled": true, "shape": "square", "size": 30, "color": "#1c71b3"}},
    "encoding": {"x": {"field": "q", "type": "quantitative"}, "y": {"field": "m", "type": "quantitative"}}},
   {"data": {"name": "ann"}, "transform": [{"filter": "datum.p==6"}], "mark": {"type": "text", "font": "Liberation Serif", "fontWeight": "bold", "fontSize": 12.5, "color": "#000000"},
    "encoding": {"x": {"field": "tx", "type": "quantitative"}, "y": {"field": "ty", "type": "quantitative"}, "text": {"field": "label"}}},
   {"data": {"name": "ann"}, "transform": [{"filter": "datum.p==6"}], "mark": {"type": "rule", "color": "#000000", "strokeWidth": 1},
    "encoding": {"x": {"field": "x0", "type": "quantitative"}, "y": {"field": "y0", "type": "quantitative"}, "x2": {"field": "x1"}, "y2": {"field": "y1"}}},
   {"data": {"name": "ann"}, "transform": [{"filter": "datum.p==6 && datum.label=='Hawkish'"}], "mark": {"type": "point", "shape": "M0,0L-0.6,2L0.6,2Z", "filled": true, "color": "#000000", "opacity": 1, "size": 49, "angle": 152},
    "encoding": {"x": {"field": "x1", "type": "quantitative"}, "y": {"field": "y1", "type": "quantitative"}}},
   {"data": {"name": "ann"}, "transform": [{"filter": "datum.p==6 && datum.label=='Dovish'"}], "mark": {"type": "point", "shape": "M0,0L-0.6,2L0.6,2Z", "filled": true, "color": "#000000", "opacity": 1, "size": 49, "angle": 293},
    "encoding": {"x": {"field": "x1", "type": "quantitative"}, "y": {"field": "y1", "type": "quantitative"}}}
  ]},
  {"transform": [{"filter": "datum.p==6"}], "mark": {"type": "point", "opacity": 0},
   "encoding": {"x": {"field": "q", "type": "quantitative", "axis": {"orient": "top", "values": [0,4,8,12,16,20], "tickCount": 20, "labels": false, "title": null}},
    "y": {"field": "m", "type": "quantitative", "axis": {"orient": "right", "values": [-0.2,0,0.2,0.4,0.6], "tickCount": 20, "labels": false, "title": null}}}}
 ],
 "resolve": {"axis": {"x": "independent", "y": "independent"}}
}
]
}
